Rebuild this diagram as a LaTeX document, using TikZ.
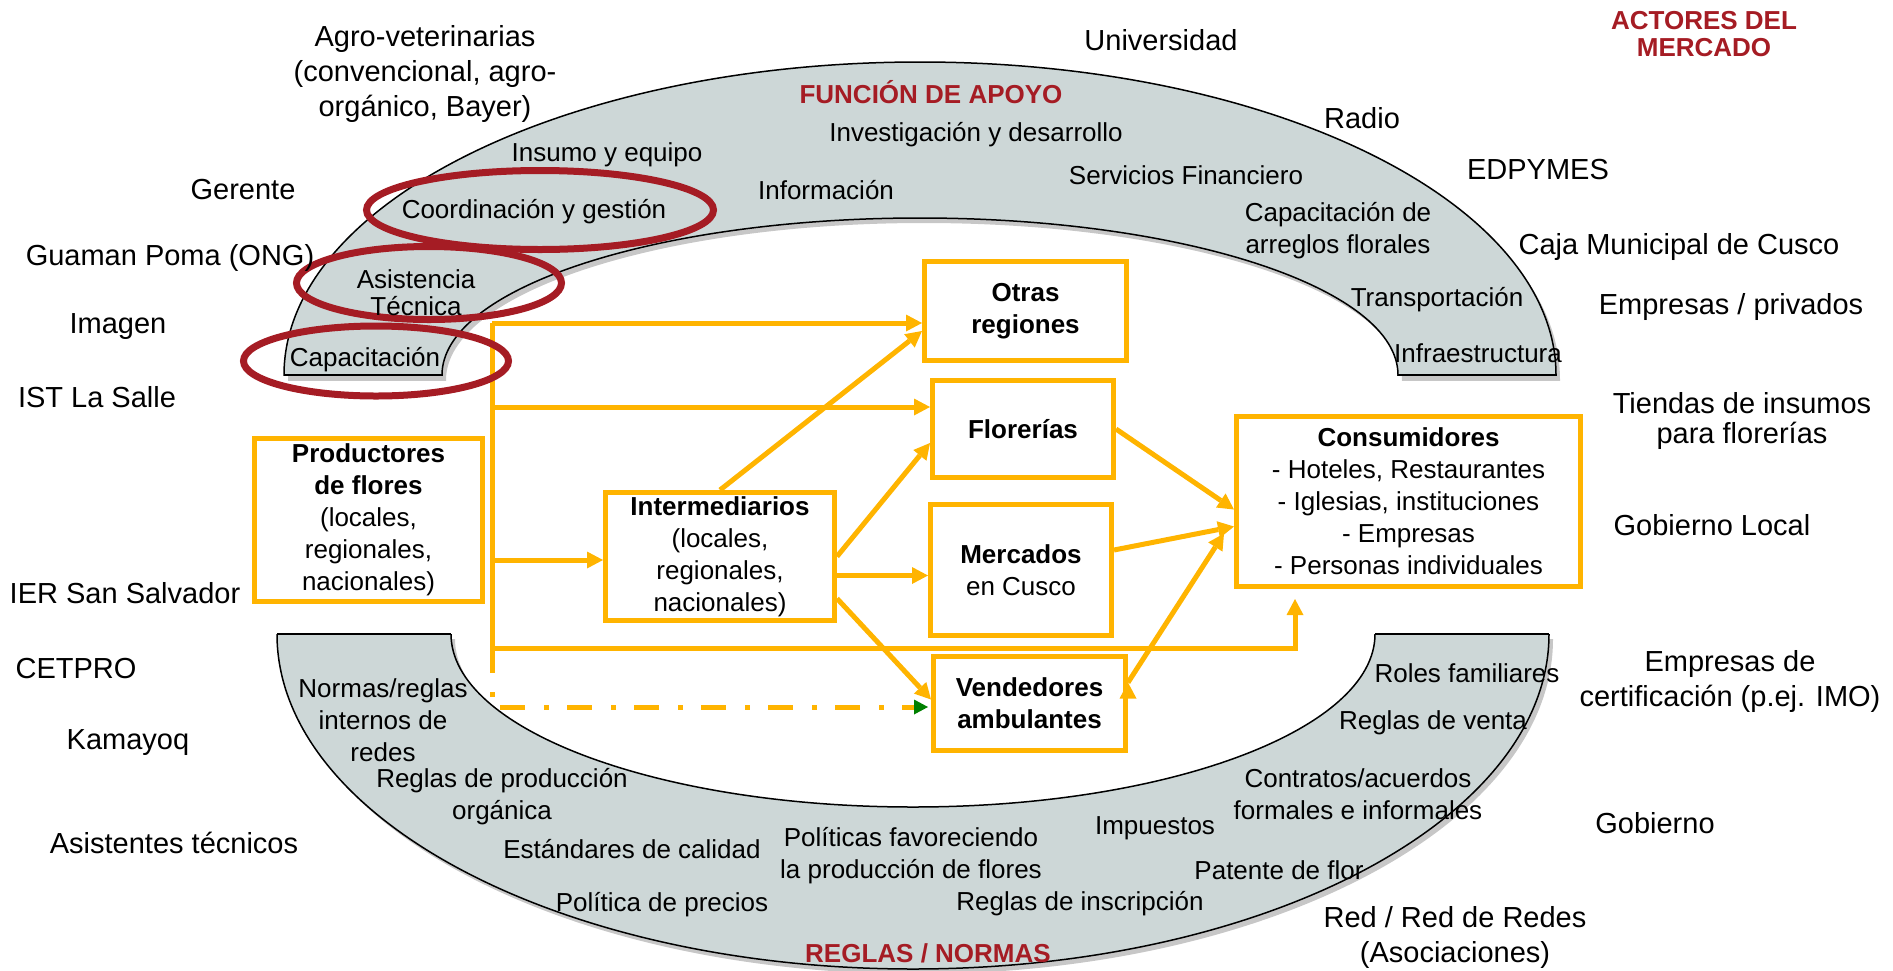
\documentclass[tikz,border=0pt]{standalone}
\usepackage{fontspec}
\setmainfont{Liberation Sans}
\usepackage{tikz}
\usetikzlibrary{arrows.meta}
\definecolor{flowgold}{RGB}{255,180,0}
\definecolor{ringred}{RGB}{165,28,36}
\definecolor{bandgray}{RGB}{205,215,215}
\definecolor{tipgreen}{RGB}{0,128,0}
\tikzset{
    actorlabel/.style={align=center, inner sep=0pt, font=\fontsize{29}{35}\selectfont},
    bandtext/.style={align=center, inner sep=0pt, font=\fontsize{26}{32}\selectfont},
    bandtitle/.style={align=center, inner sep=0pt, text=ringred, font=\fontsize{26}{27}\selectfont\bfseries},
    flowbox/.style={draw=flowgold, line width=5pt, align=center, inner sep=0pt, font=\fontsize{26}{32}\selectfont},
    flowline/.style={flowgold, draw, line width=5pt},
    flowarrow/.style={flowline, -{Triangle[length=16pt,width=17pt,line width=0pt]}},
    dashflow/.style={flowline, dash pattern=on 25pt off 19pt on 5pt off 18pt, -{Triangle[length=14pt,width=15pt,line width=0pt,color=tipgreen]}},
    redring/.style={draw=ringred, line width=7pt},
    bandline/.style={draw=black, line width=1.5pt},
    bandshadow/.style={fill=black, opacity=.22}
}

\begin{document}
\begin{tikzpicture}[x=1pt, y=-1pt]
    \useasboundingbox (0,0) rectangle (1893,970);

    % funcion de apoyo (upper half ring)
    \begin{scope}[shift={(4,5)}]
        \clip (0,0) rectangle (1893,375);
        \fill[bandshadow, even odd rule] (920,375) ellipse [x radius=636, y radius=313] (920,375) ellipse [x radius=478, y radius=157];
    \end{scope}
    \begin{scope}
        \clip (0,0) rectangle (1893,375);
        \fill[bandgray, even odd rule] (920,375) ellipse [x radius=636, y radius=313] (920,375) ellipse [x radius=478, y radius=157];
        \draw[bandline] (920,375) ellipse [x radius=636, y radius=313];
        \draw[bandline] (920,375) ellipse [x radius=478, y radius=157];
    \end{scope}
    \draw[bandline] (284,375) -- (442,375) (1398,375) -- (1556,375);

    % reglas / normas (lower half ring)
    \begin{scope}[shift={(4,5)}]
        \clip (0,634) rectangle (1893,1000);
        \fill[bandshadow, even odd rule] (913,634) ellipse [x radius=636, y radius=335] (913,634) ellipse [x radius=462, y radius=173];
    \end{scope}
    \begin{scope}
        \clip (0,634) rectangle (1893,1000);
        \fill[bandgray, even odd rule] (913,634) ellipse [x radius=636, y radius=335] (913,634) ellipse [x radius=462, y radius=173];
        \draw[bandline] (913,634) ellipse [x radius=636, y radius=335];
        \draw[bandline] (913,634) ellipse [x radius=462, y radius=173];
    \end{scope}
    \draw[bandline] (277,634) -- (451,634) (1375,634) -- (1549,634);

    % market chain
    \node[flowbox, minimum width=228pt, minimum height=163pt] at (368.5,520) (prod) {\textbf{Productores}\\\textbf{de flores}\\(locales,\\regionales,\\nacionales)};
    \node[flowbox, minimum width=229pt, minimum height=128pt] at (720,556.5) (inter) {\textbf{Intermediarios}\\(locales,\\regionales,\\nacionales)};
    \node[flowbox, minimum width=202pt, minimum height=99pt] at (1025.5,311) (otras) {\textbf{Otras}\\\textbf{regiones}};
    \node[flowbox, minimum width=181pt, minimum height=97pt] at (1023,429) (flor) {\textbf{Florerías}};
    \node[flowbox, minimum width=181pt, minimum height=131pt] at (1021,570) (merc) {\textbf{Mercados}\\en Cusco};
    \node[flowbox, minimum width=192pt, minimum height=94pt] at (1029.5,703.5) (vend) {\textbf{Vendedores}\\\textbf{ambulantes}};
    \node[flowbox, minimum width=344pt, minimum height=170pt] at (1408.5,501.5) (cons) {\textbf{Consumidores}\\- Hoteles, Restaurantes\\- Iglesias, instituciones\\- Empresas\\- Personas individuales};

    \coordinate (t1) at (492,323);
    \coordinate (t2) at (492,407);
    \coordinate (t3) at (492,560);
    \coordinate (t4) at (492,648);
    \coordinate (t5) at (492,707);
    \coordinate (c4) at (1295,648);
    \coordinate (i2) at ([yshift=-19pt]inter.east);

    \draw[flowline] (t1) -- (t4);
    \path[flowarrow]
    (t1) edge (t1 -| otras.west)
    (t2) edge (t2 -| flor.west)
    (t3) edge (t3 -| inter.west)
    (inter.north) edge ([yshift=-20pt]otras.west)
    (inter.east) edge ([yshift=-14pt]flor.west)
    (i2) edge (i2 -| merc.west)
    ([yshift=-42pt]inter.east) edge ([yshift=4pt]vend.west)
    (flor.east) edge ([yshift=-8pt]cons.west)
    ([yshift=20pt]merc.east) edge ([yshift=-25pt]cons.west)
    ([yshift=21pt]vend.east) edge ([yshift=-32pt,xshift=-10pt]cons.west)
    ;
    \draw[flowarrow, shorten >=10pt] (t4) -- (c4) -- (c4 |- cons.south);
    \draw[dashflow, shorten >=3pt] (t4) -- (t5) -- (t5 -| vend.west);

    % highlighted support functions
    \draw[redring] (540,210) ellipse [x radius=173.5, y radius=39.5];
    \draw[redring] (429,283) ellipse [x radius=132.5, y radius=36.5];
    \draw[redring] (376,361) ellipse [x radius=132.5, y radius=35];

    % texts in the upper ring
    \node[bandtitle] at (931,92) (apoyo) {FUNCIÓN DE APOYO};
    \node[bandtext] at (976,135) (invest) {Investigación y desarrollo};
    \node[bandtext] at (607,155) (insumo) {Insumo y equipo};
    \node[bandtext] at (826,190) (info) {Información};
    \node[bandtext] at (1186,175) (servfin) {Servicios Financiero};
    \node[bandtext] at (534,212) (coord) {Coordinación y gestión};
    \node[bandtext] at (1338,231) (caparr) {Capacitación de\\arreglos florales};
    \node[bandtext, font=\fontsize{26}{27}\selectfont] at (416,293) (asistec) {Asistencia\\Técnica};
    \node[bandtext] at (1437,300) (transp) {Transportación};
    \node[bandtext] at (365,360) (capac) {Capacitación};
    \node[bandtext] at (1478,353) (infra) {Infraestructura};

    % texts in the lower ring
    \node[bandtext] at (383,720) (normas) {Normas/reglas\\internos de\\redes};
    \node[bandtext] at (502,797) (prodorg) {Reglas de producción\\orgánica};
    \node[bandtext] at (632,849) (estand) {Estándares de calidad};
    \node[bandtext] at (911,856) (politic) {Políticas favoreciendo\\la producción de flores};
    \node[bandtext] at (662,905) (precios) {Política de precios};
    \node[bandtitle] at (928,953) (reglas) {REGLAS / NORMAS};
    \node[bandtext] at (1155,828) (impuestos) {Impuestos};
    \node[bandtext] at (1080,904) (inscrip) {Reglas de inscripción};
    \node[bandtext] at (1467,673) (roles) {Roles familiares};
    \node[bandtext] at (1433,723) (venta) {Reglas de venta};
    \node[bandtext] at (1358,794) (contratos) {Contratos/acuerdos\\formales e informales};
    \node[bandtext] at (1279,870) (patente) {Patente de flor};

    % market actors around
    \node[bandtitle] at (1704,34) (actores) {ACTORES DEL\\MERCADO};
    \node[actorlabel] at (425,74) (agro) {Agro-veterinarias\\(convencional, agro-\\orgánico, Bayer)};
    \node[actorlabel] at (1161,40) (univ) {Universidad};
    \node[actorlabel] at (1362,118) (radio) {Radio};
    \node[actorlabel] at (1538,170) (edpymes) {EDPYMES};
    \node[actorlabel] at (243,190) (gerente) {Gerente};
    \node[actorlabel] at (170,258) (guaman) {Guaman Poma (ONG)};
    \node[actorlabel] at (1679,247) (caja) {Caja Municipal de Cusco};
    \node[actorlabel] at (118,327) (imagen) {Imagen};
    \node[actorlabel] at (1731,307) (empresas) {Empresas / privados};
    \node[actorlabel] at (97,397) (salle) {IST La Salle};
    \node[actorlabel, font=\fontsize{29}{30}\selectfont] at (1742,421) (tiendas) {Tiendas de insumos\\para florerías};
    \node[actorlabel] at (1712,525) (gobloc) {Gobierno Local};
    \node[actorlabel] at (125,593) (salvador) {IER San Salvador};
    \node[actorlabel] at (76,669) (cetpro) {CETPRO};
    \node[actorlabel] at (1730,681) (certif) {Empresas de\\certificación (p.ej. IMO)};
    \node[actorlabel] at (128,743) (kamayoq) {Kamayoq};
    \node[actorlabel] at (1655,823) (gobierno) {Gobierno};
    \node[actorlabel] at (174,843) (asist) {Asistentes técnicos};
    \node[actorlabel] at (1455,937) (red) {Red / Red de Redes\\(Asociaciones)};
\end{tikzpicture}
\end{document}
